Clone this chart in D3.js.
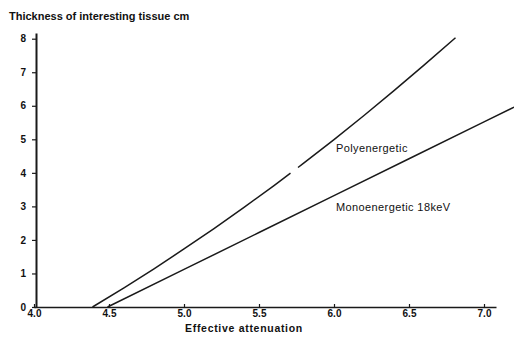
<!DOCTYPE html>
<html>
<head>
<meta charset="utf-8">
<script src="https://cdn.jsdelivr.net/npm/d3@7"></script>
<style>
  html, body { margin: 0; padding: 0; background: #fff; }
  svg { display: block; }
  text { font-family: "Liberation Sans", Arial, sans-serif; fill: #111; }
</style>
</head>
<body>
<svg id="chart" width="514" height="339"></svg>
<script>
// ---- data ----
const xTickValues = [4.0, 4.5, 5.0, 5.5, 6.0, 6.5, 7.0];
const xTickLabels = ["4.0", "4.5", "5.0", "5.5", "6.0", "6.5", "7.0"];
const yTickValues = [0, 1, 2, 3, 4, 5, 6, 7, 8];
const yTickLabels = ["0", "1", "2", "3", "4", "5", "6", "7", "8"];

const polyX = [4.39, 4.6, 4.8, 5.0, 5.2, 5.4, 5.6, 5.71, 5.735, 5.76, 5.8, 6.0, 6.2, 6.4, 6.6, 6.81];
const polyY = [0, 0.57, 1.14, 1.73, 2.34, 2.97, 3.62, 3.99, null, 4.16, 4.30, 4.99, 5.71, 6.45, 7.21, 8.03];

const monoX = [4.49, 5.0, 5.5, 6.0, 6.5, 7.0, 7.2];
const monoY = [0, 1.12, 2.22, 3.32, 4.42, 5.52, 5.96];

const seriesNames = ["Polyenergetic", "Monoenergetic 18keV"];
const yTitle = "Thickness of interesting tissue cm";
const xTitle = "Effective attenuation";

// ---- drawing ----
const svg = d3.select("#chart");
const x = d3.scaleLinear().domain([4.0, 7.08]).range([34, 496]);
const y = d3.scaleLinear().domain([0, 8.17]).range([307, 33]);

const ink = "#1a1a1a";

// x axis
const xAxis = d3.axisBottom(x)
  .tickValues(xTickValues)
  .tickFormat((d, i) => xTickLabels[i])
  .tickSizeInner(-3)
  .tickSizeOuter(0)
  .tickPadding(2);
const gx = svg.append("g").attr("transform", `translate(0,${y(0)})`).call(xAxis);
gx.select(".domain").attr("stroke", ink).attr("stroke-width", 1.5);
gx.selectAll(".tick line").attr("stroke", ink).attr("stroke-width", 1.2);
gx.selectAll(".tick text")
  .attr("y", 3)
  .attr("font-size", 10).attr("font-weight", "bold")
  .attr("font-family", "Liberation Sans, Arial, sans-serif").attr("fill", ink);

// y axis
const yAxis = d3.axisLeft(y)
  .tickValues(yTickValues)
  .tickFormat((d, i) => yTickLabels[i])
  .tickSizeInner(4)
  .tickSizeOuter(0)
  .tickPadding(6);
const gy = svg.append("g").attr("transform", `translate(36,0)`).call(yAxis);
gy.select(".domain").attr("stroke", ink).attr("stroke-width", 2);
gy.selectAll(".tick line").attr("stroke", ink).attr("stroke-width", 1.2);
gy.selectAll(".tick text")
  .attr("font-size", 10).attr("font-weight", "bold")
  .attr("font-family", "Liberation Sans, Arial, sans-serif").attr("fill", ink);

// titles
svg.append("text")
  .attr("x", 9).attr("y", 20)
  .attr("font-size", 11)
  .style("font-weight", "bold")
  .text(yTitle);
svg.append("text")
  .attr("x", 185).attr("y", 332)
  .attr("font-size", 10.5).attr("letter-spacing", 0.7)
  .style("font-weight", "bold")
  .text(xTitle);

// lines
const line = d3.line()
  .defined(d => d[1] !== null)
  .x(d => x(d[0]))
  .y(d => y(d[1]));

const polyData = polyX.map((v, i) => [v, polyY[i]]);
const monoData = monoX.map((v, i) => [v, monoY[i]]);

svg.append("path").datum(polyData)
  .attr("d", line).attr("fill", "none")
  .attr("stroke", ink).attr("stroke-width", 1.5);
svg.append("path").datum(monoData)
  .attr("d", line).attr("fill", "none")
  .attr("stroke", ink).attr("stroke-width", 1.5);

// series labels
svg.append("text")
  .attr("x", x(6.013)).attr("y", y(4.62))
  .attr("font-size", 11).attr("letter-spacing", 0.4)
  .text(seriesNames[0]);
svg.append("text")
  .attr("x", x(6.013)).attr("y", y(2.86))
  .attr("font-size", 11).attr("letter-spacing", 0.4)
  .text(seriesNames[1]);
</script>
</body>
</html>
